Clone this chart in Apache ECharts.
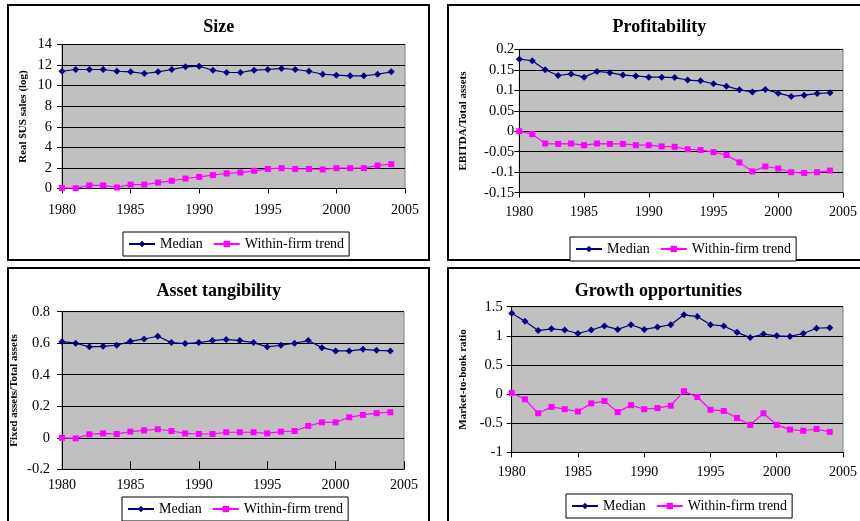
<!DOCTYPE html>
<html>
<head>
<meta charset="utf-8">
<script src="https://cdn.jsdelivr.net/npm/echarts@6/dist/echarts.min.js"></script>
<style>
html,body{margin:0;padding:0;background:#fff;}
#c{width:860px;height:521px;}
</style>
</head>
<body>
<div id="c"></div>
<script>
const years = [1980,1981,1982,1983,1984,1985,1986,1987,1988,1989,1990,1991,1992,1993,1994,1995,1996,1997,1998,1999,2000,2001,2002,2003,2004];

const titles = ["Size", "Profitability", "Asset tangibility", "Growth opportunities"];
const yNames = ["Real $US sales (log)", "EBITDA/Total assets", "Fixed assets/Total assets", "Market-to-book ratio"];
const seriesNames = ["Median", "Within-firm trend"];

const sizeMedian = [11.4,11.57,11.57,11.57,11.4,11.34,11.18,11.34,11.57,11.83,11.89,11.5,11.28,11.28,11.5,11.57,11.67,11.57,11.4,11.11,11.02,10.95,10.95,11.11,11.34];
const sizeTrend = [0.05,0.03,0.3,0.3,0.1,0.38,0.38,0.58,0.75,0.97,1.13,1.3,1.46,1.55,1.72,1.9,1.98,1.9,1.9,1.85,1.98,1.98,1.98,2.24,2.36];

const profMedian = [0.176,0.172,0.150,0.136,0.140,0.132,0.146,0.143,0.137,0.135,0.132,0.132,0.131,0.125,0.123,0.116,0.110,0.101,0.096,0.102,0.093,0.085,0.088,0.092,0.094];
const profTrend = [0,-0.007,-0.030,-0.031,-0.030,-0.034,-0.030,-0.031,-0.031,-0.034,-0.034,-0.037,-0.038,-0.044,-0.046,-0.051,-0.058,-0.076,-0.098,-0.086,-0.091,-0.100,-0.102,-0.100,-0.096];

const tangMedian = [0.61,0.60,0.577,0.58,0.587,0.612,0.627,0.644,0.604,0.598,0.604,0.617,0.624,0.617,0.604,0.577,0.587,0.60,0.617,0.572,0.551,0.551,0.561,0.555,0.551];
const tangTrend = [0,-0.004,0.022,0.028,0.024,0.039,0.047,0.054,0.043,0.028,0.024,0.024,0.035,0.035,0.035,0.028,0.039,0.043,0.075,0.098,0.098,0.13,0.145,0.156,0.162];

const growMedian = [1.386,1.25,1.09,1.12,1.10,1.04,1.10,1.17,1.11,1.19,1.11,1.15,1.19,1.36,1.33,1.19,1.17,1.06,0.97,1.03,1.00,0.99,1.04,1.13,1.14];
const growTrend = [0.02,-0.09,-0.33,-0.22,-0.26,-0.30,-0.16,-0.12,-0.31,-0.19,-0.26,-0.24,-0.20,0.05,-0.05,-0.27,-0.29,-0.41,-0.53,-0.33,-0.53,-0.61,-0.63,-0.60,-0.65];

const yMin = [0, -0.15, -0.2, -1];
const yMax = [14, 0.2, 0.8, 1.5];
const yStep = [2, 0.05, 0.2, 0.5];

const medians = [sizeMedian, profMedian, tangMedian, growMedian];
const trends = [sizeTrend, profTrend, tangTrend, growTrend];

const FONT = "'Liberation Serif','Times New Roman',serif";
const NAVY = '#000080', MAG = '#FF00FF';

// layout (pixels)
const grids = [
  {left:62, top:44.5, width:343, height:144},
  {left:519.3, top:49.3, width:324, height:143.4},
  {left:62, top:311.7, width:342, height:157.6},
  {left:511.7, top:306.7, width:331.6, height:145.6}
];
const titlePos = [[218.7,18],[659.3,18],[218.7,282],[658.3,282]];
const legendPos = [[123,232],[570,237],[122,497],[566,494]];
const xLabelMargin = [15,13,9,13];
const yLabelMargin = [10,5,12,9];
const nameGaps = [33,51,42,43];
const frames = [[8,5,421,255],[448,5,420,255],[8,268,421,260],[448,268,420,260]];

function fmt(v){ return String(+(+v).toFixed(2)); }
function fmtYear(v){ return String(Math.round(v)); }

const option = {
  animation:false,
  backgroundColor:'#ffffff',
  textStyle:{fontFamily:FONT,color:'#000'},
  title: titles.map((t,i)=>({
    text:t, left:titlePos[i][0], top:titlePos[i][1], textAlign:'center', padding:0,
    textStyle:{fontFamily:FONT,fontWeight:'bold',fontSize:18,color:'#000'}
  })),
  legend: legendPos.map((p,i)=>({
    data:seriesNames, left:p[0], top:p[1], orient:'horizontal',
    padding:[5,5], itemGap:10, itemWidth:26, itemHeight:8,
    borderColor:'#000', borderWidth:1, backgroundColor:'#fff',
    textStyle:{fontFamily:FONT,fontSize:14,color:'#000'},
    selectedMode:false
  })),
  grid: grids.map(g=>({
    left:g.left, top:g.top, width:g.width, height:g.height, show:true,
    backgroundColor:'#C0C0C0', borderColor:'#808080', borderWidth:1, containLabel:false
  })),
  xAxis: grids.map((g,i)=>({
    type:'value', gridIndex:i, min:1980, max:2005, interval:5,
    axisLine:{show:true,onZero:false,lineStyle:{color:'#000',width:1}},
    axisTick:{show:true,inside:i===2,length:i===2?8:5,lineStyle:{color:'#000'}},
    axisLabel:{fontFamily:FONT,fontSize:14,color:'#000',margin:xLabelMargin[i],formatter:fmtYear},
    splitLine:{show:false}
  })),
  yAxis: grids.map((g,i)=>({
    type:'value', gridIndex:i, min:yMin[i], max:yMax[i], interval:yStep[i],
    name:yNames[i], nameLocation:'middle', nameRotate:90, nameGap:nameGaps[i],
    nameTextStyle:{fontFamily:FONT,fontWeight:'bold',fontSize:11,color:'#000'},
    axisLine:{show:true,onZero:false,lineStyle:{color:'#000',width:1}},
    axisTick:{show:true,length:5,lineStyle:{color:'#000'}},
    axisLabel:{fontFamily:FONT,fontSize:14.5,color:'#000',margin:yLabelMargin[i],formatter:fmt},
    splitLine:{show:true,lineStyle:{color:'#000',width:1}}
  })),
  series: [],
  graphic: frames.map(f=>({
    type:'rect', shape:{x:f[0],y:f[1],width:f[2],height:f[3]},
    style:{fill:'none',stroke:'#000',lineWidth:2}, z:-1, silent:true
  }))
};

for (let i=0;i<4;i++){
  option.series.push({
    name:seriesNames[0], type:'line', xAxisIndex:i, yAxisIndex:i,
    data: years.map((y,k)=>[y, medians[i][k]]),
    symbol:'diamond', symbolSize:7, showAllSymbol:true,
    lineStyle:{color:NAVY,width:1.2}, itemStyle:{color:NAVY}
  });
  option.series.push({
    name:seriesNames[1], type:'line', xAxisIndex:i, yAxisIndex:i,
    data: years.map((y,k)=>[y, trends[i][k]]),
    symbol:'rect', symbolSize:6, showAllSymbol:true,
    lineStyle:{color:MAG,width:1.2}, itemStyle:{color:MAG}
  });
}

const chart = echarts.init(document.getElementById('c'), null, {renderer:'canvas'});
chart.setOption(option);
</script>
</body>
</html>
